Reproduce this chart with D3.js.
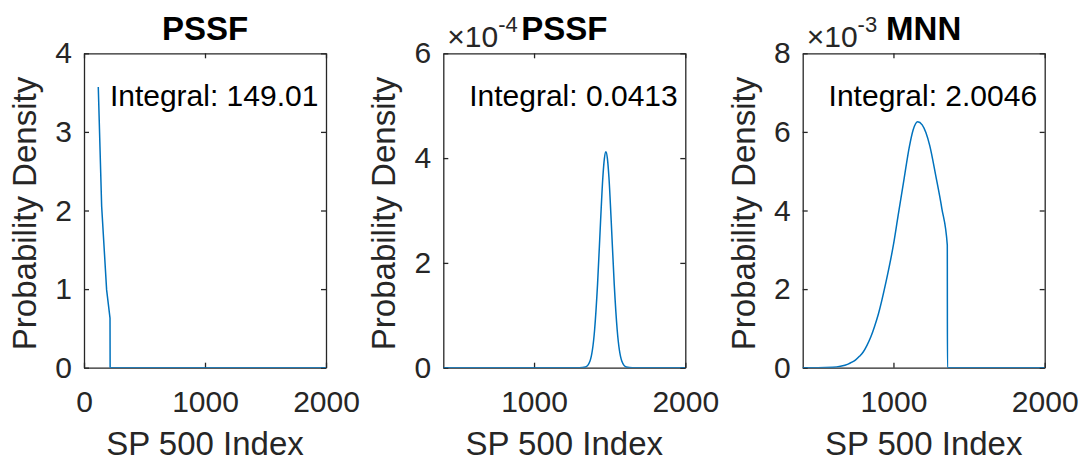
<!DOCTYPE html>
<html>
<head>
<meta charset="utf-8">
<script src="https://cdn.jsdelivr.net/npm/d3@7"></script>
<style>
  body { margin: 0; background: #fff; }
  svg { display: block; font-family: "Liberation Sans", Arial, Helvetica, sans-serif; }
  .axis path, .axis line { stroke: #262626; stroke-width: 1.3; }
  .axis text { fill: #262626; font-size: 30px; font-family: "Liberation Sans", Arial, sans-serif; }
</style>
</head>
<body>
<div id="chart"></div>
<script>
// panel metadata
var titles = ["PSSF", "PSSF", "MNN"];
var integrals = ["Integral: 149.01", "Integral: 0.0413", "Integral: 2.0046"];
var exponents = [0, -4, -3];
var xDomains = [[0, 2000], [400, 2000], [400, 2000]];
var yDomains = [[0, 4], [0, 6e-4], [0, 8e-3]];
var xTicks = [[0, 1000, 2000], [1000, 2000], [1000, 2000]];
var yTicks = [[0, 1, 2, 3, 4], [0, 2e-4, 4e-4, 6e-4], [0, 2e-3, 4e-3, 6e-3, 8e-3]];

// series
var pssf1X = [118, 146, 187, 215, 216, 2000];
var pssf1Y = [3.57, 2.05, 0.99, 0.63, 0, 0];

var pssf2X = [400, 1300, 1340, 1370, 1400, 1420, 1440, 1455, 1465, 1475, 1485, 1495, 1510, 1530, 1550, 1580, 1610, 1650, 2000];
var pssf2Y = [0, 0, 0.014e-4, 0.13e-4, 0.71e-4, 1.60e-4, 2.81e-4, 3.64e-4, 3.99e-4, 4.12e-4,
              3.99e-4, 3.64e-4, 2.81e-4, 1.60e-4, 0.71e-4, 0.13e-4, 0.014e-4, 0, 0];

var mnnX = [400, 500, 600, 650, 700, 725, 750, 775, 800, 825, 850, 875, 900, 950, 1000, 1030, 1070, 1105, 1130, 1160,
            1190, 1215, 1240, 1280, 1320, 1356, 1357, 2000];
var mnnY = [0, 0, 0.01e-3, 0.035e-3, 0.09e-3, 0.14e-3, 0.2e-3, 0.29e-3, 0.4e-3, 0.57e-3, 0.78e-3, 1.05e-3, 1.36e-3,
            2.17e-3, 3.13e-3, 3.85e-3, 4.8e-3, 5.62e-3, 6.05e-3, 6.26e-3,
            6.18e-3, 5.98e-3, 5.65e-3, 4.88e-3, 4.05e-3, 3.12e-3, 0, 0];

var seriesX = [pssf1X, pssf2X, mnnX];
var seriesY = [pssf1Y, pssf2Y, mnnY];

var width = 1083, height = 461;
var lefts = [84, 443.3, 802.7];
var plotTop = 53.3, W = 242, H = 314.4;

var svg = d3.select("#chart").append("svg")
    .attr("width", width)
    .attr("height", height);

svg.append("rect").attr("width", width).attr("height", height).attr("fill", "#fff");

titles.forEach(function(title, i) {
  var g = svg.append("g").attr("transform", "translate(" + lefts[i] + "," + plotTop + ")");
  var x = d3.scaleLinear().domain(xDomains[i]).range([0, W]);
  var y = d3.scaleLinear().domain(yDomains[i]).range([H, 0]);
  var div = Math.pow(10, exponents[i]);
  var fmt = function(d) { return d3.format("d")(Math.round(d / div)); };

  g.append("clipPath").attr("id", "clip" + i)
    .append("rect").attr("width", W).attr("height", H);

  var pts = seriesX[i].map(function(v, k) { return [v, seriesY[i][k]]; });
  var line = d3.line()
    .x(function(d) { return x(d[0]); })
    .y(function(d) { return y(d[1]); })
    .curve(i === 0 ? d3.curveLinear : d3.curveMonotoneX);

  // axes (inward ticks, mirrored box)
  g.append("g").attr("class", "axis")
    .attr("transform", "translate(0," + H + ")")
    .call(d3.axisBottom(x).tickValues(xTicks[i]).tickSizeInner(-5).tickSizeOuter(0).tickPadding(23).tickFormat(d3.format("d")));
  g.append("g").attr("class", "axis")
    .call(d3.axisTop(x).tickValues(xTicks[i]).tickSizeInner(-5).tickSizeOuter(0).tickFormat(""));
  g.append("g").attr("class", "axis")
    .call(d3.axisLeft(y).tickValues(yTicks[i]).tickSizeInner(-5).tickSizeOuter(0).tickPadding(12).tickFormat(fmt));
  g.append("g").attr("class", "axis")
    .attr("transform", "translate(" + W + ",0)")
    .call(d3.axisRight(y).tickValues(yTicks[i]).tickSizeInner(-5).tickSizeOuter(0).tickFormat(""));

  g.append("path")
    .datum(pts)
    .attr("clip-path", "url(#clip" + i + ")")
    .attr("fill", "none")
    .attr("stroke", "#0072BD")
    .attr("stroke-width", 1.5)
    .attr("stroke-linejoin", "round")
    .attr("d", line);

  // labels
  g.append("text")
    .attr("x", W / 2).attr("y", 402)
    .attr("text-anchor", "middle")
    .attr("fill", "#262626")
    .style("font-size", "33px")
    .text("SP 500 Index");

  g.append("text")
    .attr("transform", "translate(-48," + (H / 2 + 3) + ") rotate(-90)")
    .attr("text-anchor", "middle")
    .attr("fill", "#262626")
    .style("font-size", "33px")
    .text("Probability Density");

  g.append("text")
    .attr("x", W * 0.107).attr("y", H * 0.167)
    .attr("fill", "#000")
    .style("font-size", "30px")
    .text(integrals[i]);

  if (exponents[i] !== 0) {
    var ex = g.append("text")
      .attr("x", 4).attr("y", -6)
      .attr("fill", "#262626")
      .style("font-size", "30px");
    ex.append("tspan").text("\u00d710");
    ex.append("tspan").attr("dy", -15).style("font-size", "22px").text(String(exponents[i]));
  }

  g.append("text")
    .attr("x", W / 2).attr("y", -13)
    .attr("text-anchor", "middle")
    .attr("fill", "#000")
    .style("font-size", "33px")
    .style("font-weight", "bold")
    .text(title);
});
</script>
</body>
</html>
